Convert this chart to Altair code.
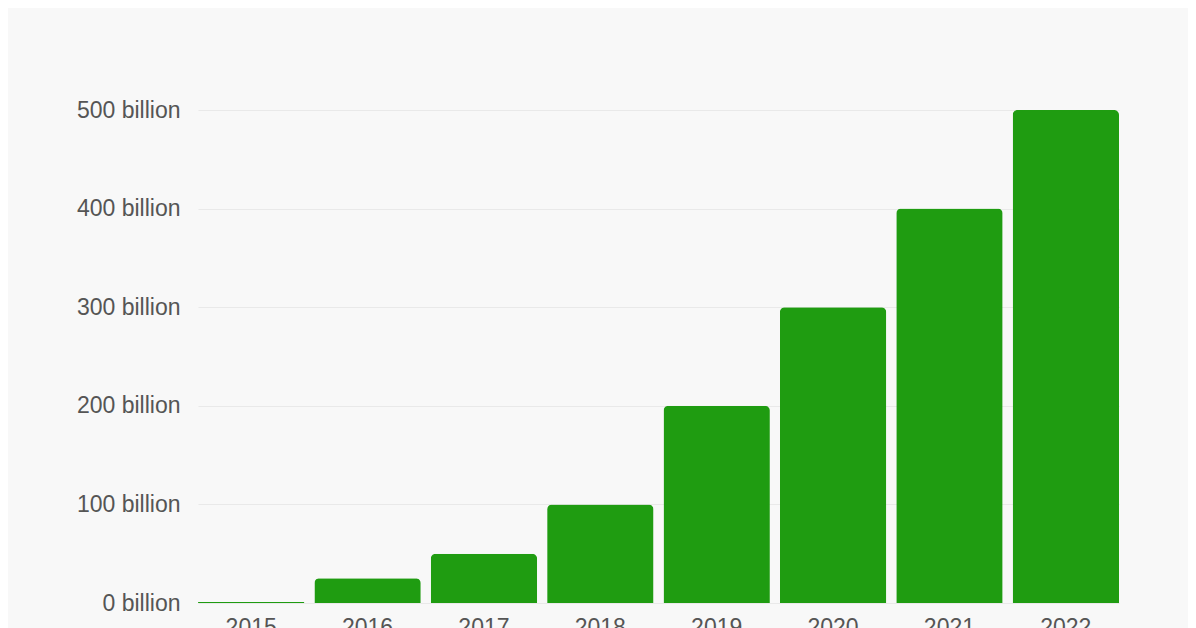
import altair as alt
import pandas as pd

years = ["2015", "2016", "2017", "2018", "2019", "2020", "2021", "2022"]
values_billion = [1, 25, 50, 100, 200, 300, 400, 500]
y_ticks = [0, 100, 200, 300, 400, 500]

df = pd.DataFrame({"year": years, "value": values_billion})

chart = alt.Chart(df).mark_bar(
    color="#1f9c11",
    cornerRadiusTopLeft=5,
    cornerRadiusTopRight=5,
).encode(
    x=alt.X("year:N", title=None, sort=years,
            scale=alt.Scale(paddingInner=0.086, paddingOuter=0.0),
            axis=alt.Axis(labelAngle=0, ticks=False, domain=False, grid=False,
                          labelFontSize=23, labelColor="#555555", labelPadding=13,
                          labelFont="Liberation Sans")),
    y=alt.Y("value:Q", title=None,
            scale=alt.Scale(domain=[0, 500], nice=False),
            axis=alt.Axis(values=y_ticks, ticks=False, domain=False,
                          labelExpr="datum.value + ' billion'",
                          labelFontSize=23, labelColor="#555555", labelPadding=18,
                          labelFont="Liberation Sans",
                          gridColor="#e9e9e9", gridWidth=1)),
).properties(
    width=921,
    height=493,
    background="#f8f8f8",
    padding={"left": 190, "top": 102, "right": 69, "bottom": 40},
    autosize=alt.AutoSizeParams(type="none"),
).configure_view(stroke=None)

chart.save("out.html", embed_options={"renderer": "svg", "actions": False})
